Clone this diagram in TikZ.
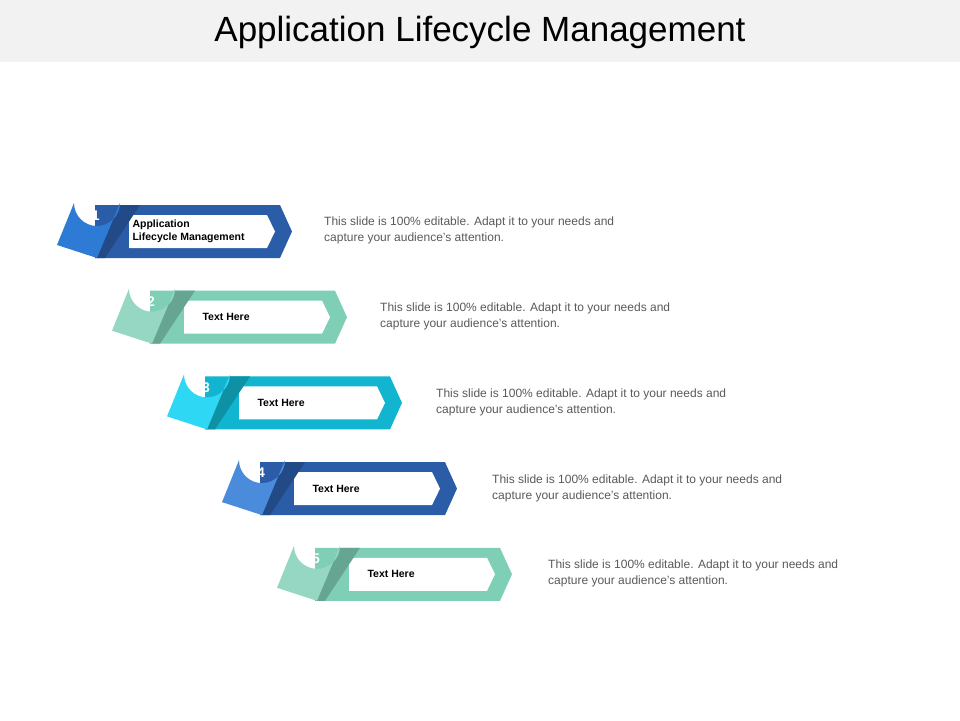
\documentclass[tikz,border=0pt]{standalone}
\usepackage{fontspec}
\setmainfont{Liberation Sans}
\usetikzlibrary{positioning}
\definecolor{tabA}{HTML}{2E7BD6}\definecolor{bandA}{HTML}{2A5CA8}
\definecolor{tabB}{HTML}{95D7C3}\definecolor{bandB}{HTML}{7ECFB6}
\definecolor{tabC}{HTML}{2ED8F5}\definecolor{bandC}{HTML}{12B5CF}
\definecolor{tabD}{HTML}{4A8BDB}\definecolor{bandD}{HTML}{2A5CA8}
\definecolor{desc}{HTML}{595959}
\begin{document}
\begin{tikzpicture}[x=1pt,y=-1pt]

	\tikzstyle{num} = [text=white, font=\fontsize{14}{14}\selectfont\bfseries]
	\tikzstyle{lbl} = [anchor=west, align=left, font=\fontsize{10.5}{13}\selectfont\bfseries]
	\tikzstyle{note} = [anchor=north west, align=left, text=desc, inner sep=0pt, font=\fontsize{12}{16}\selectfont]

	\useasboundingbox (0,0) rectangle (960,720);
	\fill[black!5] (0,0) rectangle (960,62);
	\node (title) at (480,32) {\fontsize{35}{35}\selectfont Application Lifecycle Management};

	\foreach \i/\tab/\band/\txt in {0/tabA/bandA/{Application\\Lifecycle Management},1/tabB/bandB/Text Here,2/tabC/bandC/Text Here,3/tabD/bandD/Text Here,4/tabB/bandB/Text Here}{
		\begin{scope}[shift={(55*\i,85.7*\i)}]
			\fill[\band] (95,205) -- (280,205) -- (292,231.5) -- (280,258) -- (95,258) -- cycle;
			\fill[white] (129,215) -- (267,215) -- (275,231.5) -- (267,248) -- (129,248) -- cycle;
			\fill[\band!80!black] (120,205) -- (140,205) -- (105,258) -- (95,258) -- cycle;
			\fill[\tab] (57,245) -- (74,203) arc[start angle=180,end angle=0,radius=23] -- (97,258) -- cycle;
		\end{scope}
		\pgfmathtruncatemacro\k{\i+1}
		\node[num] (n\k) at (92+55*\i,216+85.7*\i) {0\k};
		\ifnum\i=0
			\node[lbl] (l\k) at (129,231.5) {\txt};
		\else
			\node[lbl] (l\k) at (144+55*\i,231.5+85.7*\i) {\txt};
		\fi
		\node[note] (d\k) at (324+56*\i,217+85.7*\i) {This slide is 100\% editable. Adapt it to your needs and\\capture your audience's attention.};
	}

\end{tikzpicture}
\end{document}
